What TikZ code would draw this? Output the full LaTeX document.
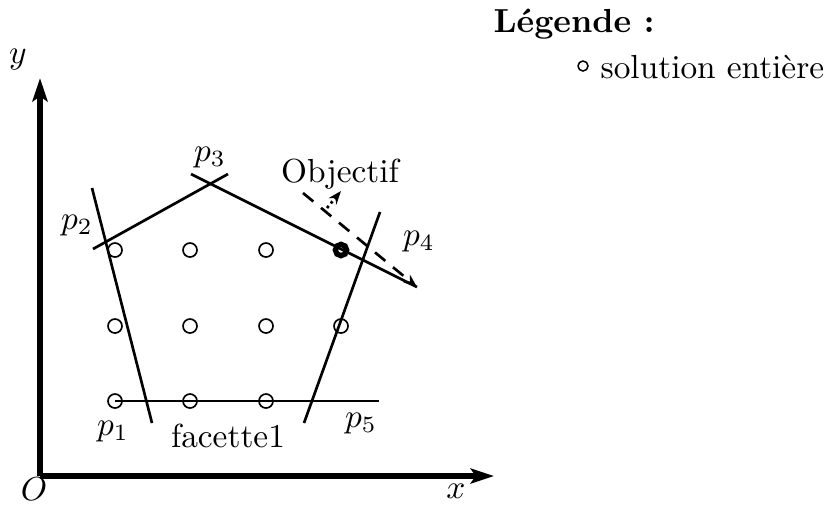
\documentclass[tikz,border=0pt]{standalone}
\usetikzlibrary{arrows.meta}
\begin{document}
\begin{tikzpicture}[x=0.3pt,y=-0.3pt,
  axis/.style={line width=1.6pt,-{Stealth[length=7pt,width=4.5pt,inset=1.5pt]}},
  facet/.style={line width=0.8pt},
  pt/.style={circle,draw,line width=0.5pt,minimum size=4.2pt,inner sep=0pt},
  best/.style={circle,draw,line width=1.6pt,minimum size=3.4pt,inner sep=0pt},
  legpt/.style={circle,draw,line width=0.45pt,minimum size=3pt,inner sep=0pt},
  lab/.style={inner sep=0pt}]
\useasboundingbox (0,0) rectangle (828,504);
% axes
\coordinate (O) at (40,476);
\coordinate (xe) at (494,476);
\coordinate (ye) at (40,78);
\draw[axis] (O) -- (xe);
\draw[axis] (O) -- (ye);
\node[lab] (Olab) at (34,489) {$O$};
\node[lab] (xlab) at (456,491) {$x$};
\node[lab] (ylab) at (18,60) {$y$};
% integer points
\foreach \i/\x/\y in {a/115/250,b/190/250,c/266/250,
                      d/115/326,e/190/326,f/266/326,g/341/326,
                      h/115/401,i/190/401,j/266/401}
  \node[pt] (\i) at (\x,\y) {};
\node[best] (k) at (341,250) {};
% facet lines
\coordinate (l1a) at (92,188);  \coordinate (l1b) at (152,423);
\coordinate (l2a) at (93,249);  \coordinate (l2b) at (228,174);
\coordinate (l3a) at (191,174); \coordinate (l3b) at (417,287);
\coordinate (l4a) at (380,212); \coordinate (l4b) at (304,423);
\coordinate (l5b) at (379,401);
\draw[facet] (l1a) -- (l1b);
\draw[facet] (l2a) -- (l2b);
\draw[facet] (l3a) -- (l3b);
\draw[facet] (l4a) -- (l4b);
\draw[facet] (h.center) -- (l5b);
% objective
\coordinate (oa) at (303,193);
\draw[facet,dash pattern=on 4pt off 3pt,-{Stealth[length=4pt,width=3pt]}] (oa) -- (l3b);
\coordinate (da) at (327,208);
\coordinate (db) at (341,191);
\draw[line width=0.8pt,densely dotted,-{Stealth[length=4pt,width=3pt]}] (da) -- (db);
% labels
\node[lab] (p1) at (113,432) {$p_1$};
\node[lab] (p2) at (77,226) {$p_2$};
\node[lab] (p3) at (210,158) {$p_3$};
\node[lab] (p4) at (419,242) {$p_4$};
\node[lab] (p5) at (361,424) {$p_5$};
\node[lab] (fac) at (228,436) {facette1};
\node[lab] (obj) at (340,174) {Objectif};
\node[lab,anchor=west] (leg) at (493,24) {\textbf{Légende :}};
\node[legpt] (legc) at (583,66) {};
\node[lab,anchor=west] (legt) at (600,67) {solution entière};
\end{tikzpicture}
\end{document}
